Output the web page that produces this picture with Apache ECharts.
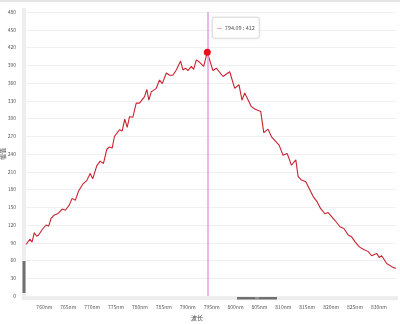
<!DOCTYPE html>
<html><head><meta charset="utf-8">
<script src="https://cdn.jsdelivr.net/npm/echarts@6/dist/echarts.min.js"></script>
<style>html,body{margin:0;padding:0;background:#fff}#c{width:400px;height:324px}</style>
</head><body><div id="c"></div>
<script>
var wavelengths = [756.16,756.50,757.00,757.42,757.90,758.39,758.81,759.52,760.36,760.90,761.40,762.10,762.79,763.71,764.40,765.24,765.81,766.50,767.19,768.03,768.87,769.58,770.12,770.96,771.67,772.37,773.06,773.62,774.19,774.67,775.15,775.72,776.28,776.83,777.33,777.82,778.51,779.22,779.91,780.96,781.44,781.86,782.36,783.41,784.10,784.67,785.51,786.20,786.89,787.60,788.51,788.99,789.55,790.04,790.75,791.23,791.80,792.49,793.33,794.09,795.27,795.99,797.37,798.78,799.82,800.73,801.35,801.92,803.32,804.02,805.27,805.90,806.80,807.52,809.11,809.95,810.79,811.71,812.61,813.09,813.81,814.71,816.24,817.08,817.79,818.69,819.38,820.78,821.83,822.67,823.57,824.28,824.98,825.88,826.72,827.76,828.48,829.53,830.07,830.57,831.62,833.00,833.57];
var amplitudes = [87,90,96,91,107,101,103,112,120,118,131,137,139,147,145,154,165,162,178,189,195,207,198,220,228,224,248,252,250,270,275,281,279,299,285,303,302,326,326,337,349,331,345,351,365,359,377,373,373,382,397,382,385,381,388,383,399,395,388,412,381,385,371,379,351,357,331,343,320,316,312,276,282,269,255,238,241,221,230,202,196,193,168,159,148,139,141,128,117,114,103,100,92,83,79,75,68,72,65,68,55,48,47];
var peak = [794.09, 412];
var xName = '波长';
var yName = '幅值';

var chart = echarts.init(document.getElementById('c'), null, {renderer:'canvas'});
var font = 'Microsoft YaHei, "Noto Sans CJK SC", sans-serif';
var pts = wavelengths.map(function(w,i){return [w, amplitudes[i]];});
chart.setOption({
  animation:false,
  textStyle:{fontFamily:font},
  grid:{left:26,right:4,top:12,bottom:28,containLabel:false,outerBoundsMode:'none'},
  graphic:[
    {type:'rect',shape:{x:0,y:0,width:400,height:2},style:{fill:'#e6e6e6'},silent:true},
    {type:'rect',shape:{x:22,y:8,width:4,height:288},style:{fill:'#eeeeee'},silent:true},
    {type:'rect',shape:{x:22,y:296,width:376,height:4},style:{fill:'#ececec'},silent:true},
    {type:'rect',shape:{x:22.5,y:261,width:3,height:32},style:{fill:'#707070'},silent:true},
    {type:'rect',shape:{x:237,y:297,width:40,height:2.5},style:{fill:'#707070'},silent:true},
    {type:'rect',shape:{x:255,y:297.5,width:4,height:1},style:{fill:'#bbbbbb'},silent:true}
  ],
  xAxis:{
    type:'value', min:'dataMin', max:'dataMax', minInterval:5, maxInterval:5,
    name:xName, nameLocation:'middle', nameGap:19, nameMoveOverlap:false,
    nameTextStyle:{fontSize:6,color:'#444',padding:[0,28,0,0]},
    axisLine:{show:false}, axisTick:{show:false}, splitLine:{show:false},
    axisLabel:{fontSize:5,color:'#555',margin:9,showMinLabel:false,showMaxLabel:false,
      formatter:function(v){return v+'nm';}}
  },
  yAxis:{
    type:'value', min:0, max:480, interval:30,
    name:yName, nameLocation:'middle', nameGap:20, nameMoveOverlap:false,
    nameTextStyle:{fontSize:6,color:'#444'},
    axisLine:{show:false}, axisTick:{show:false},
    splitLine:{lineStyle:{color:'#f0f0f0',width:1}},
    axisLabel:{fontSize:5,color:'#555',margin:10}
  },
  series:[{
    type:'line', data:pts, symbol:'none', smooth:false,
    lineStyle:{color:'#c8232f',width:1.1},
    itemStyle:{color:'#c8232f'},
    markLine:{silent:true,symbol:['none','none'],label:{show:false},
      lineStyle:{color:'#e49ee4',type:'solid',width:1.5,opacity:1},
      data:[{xAxis:peak[0]}]},
    markPoint:{silent:true,symbol:'circle',symbolSize:7,
      itemStyle:{color:'#e8101e'},
      data:[{coord:peak}],
      label:{show:true,position:[9,-31],align:'left',verticalAlign:'top',
        backgroundColor:'#fff',borderColor:'#e2e2e2',borderWidth:1,borderRadius:2,
        padding:[4,4,4,4],shadowColor:'rgba(0,0,0,0.08)',shadowBlur:3,
        formatter:function(){return '{a|—} {b|'+peak[0]+' : '+peak[1]+'}';},
        rich:{a:{color:'#c8232f',fontSize:6},b:{color:'#555',fontSize:5.5}}}
    }
  }]
});
</script></body></html>
